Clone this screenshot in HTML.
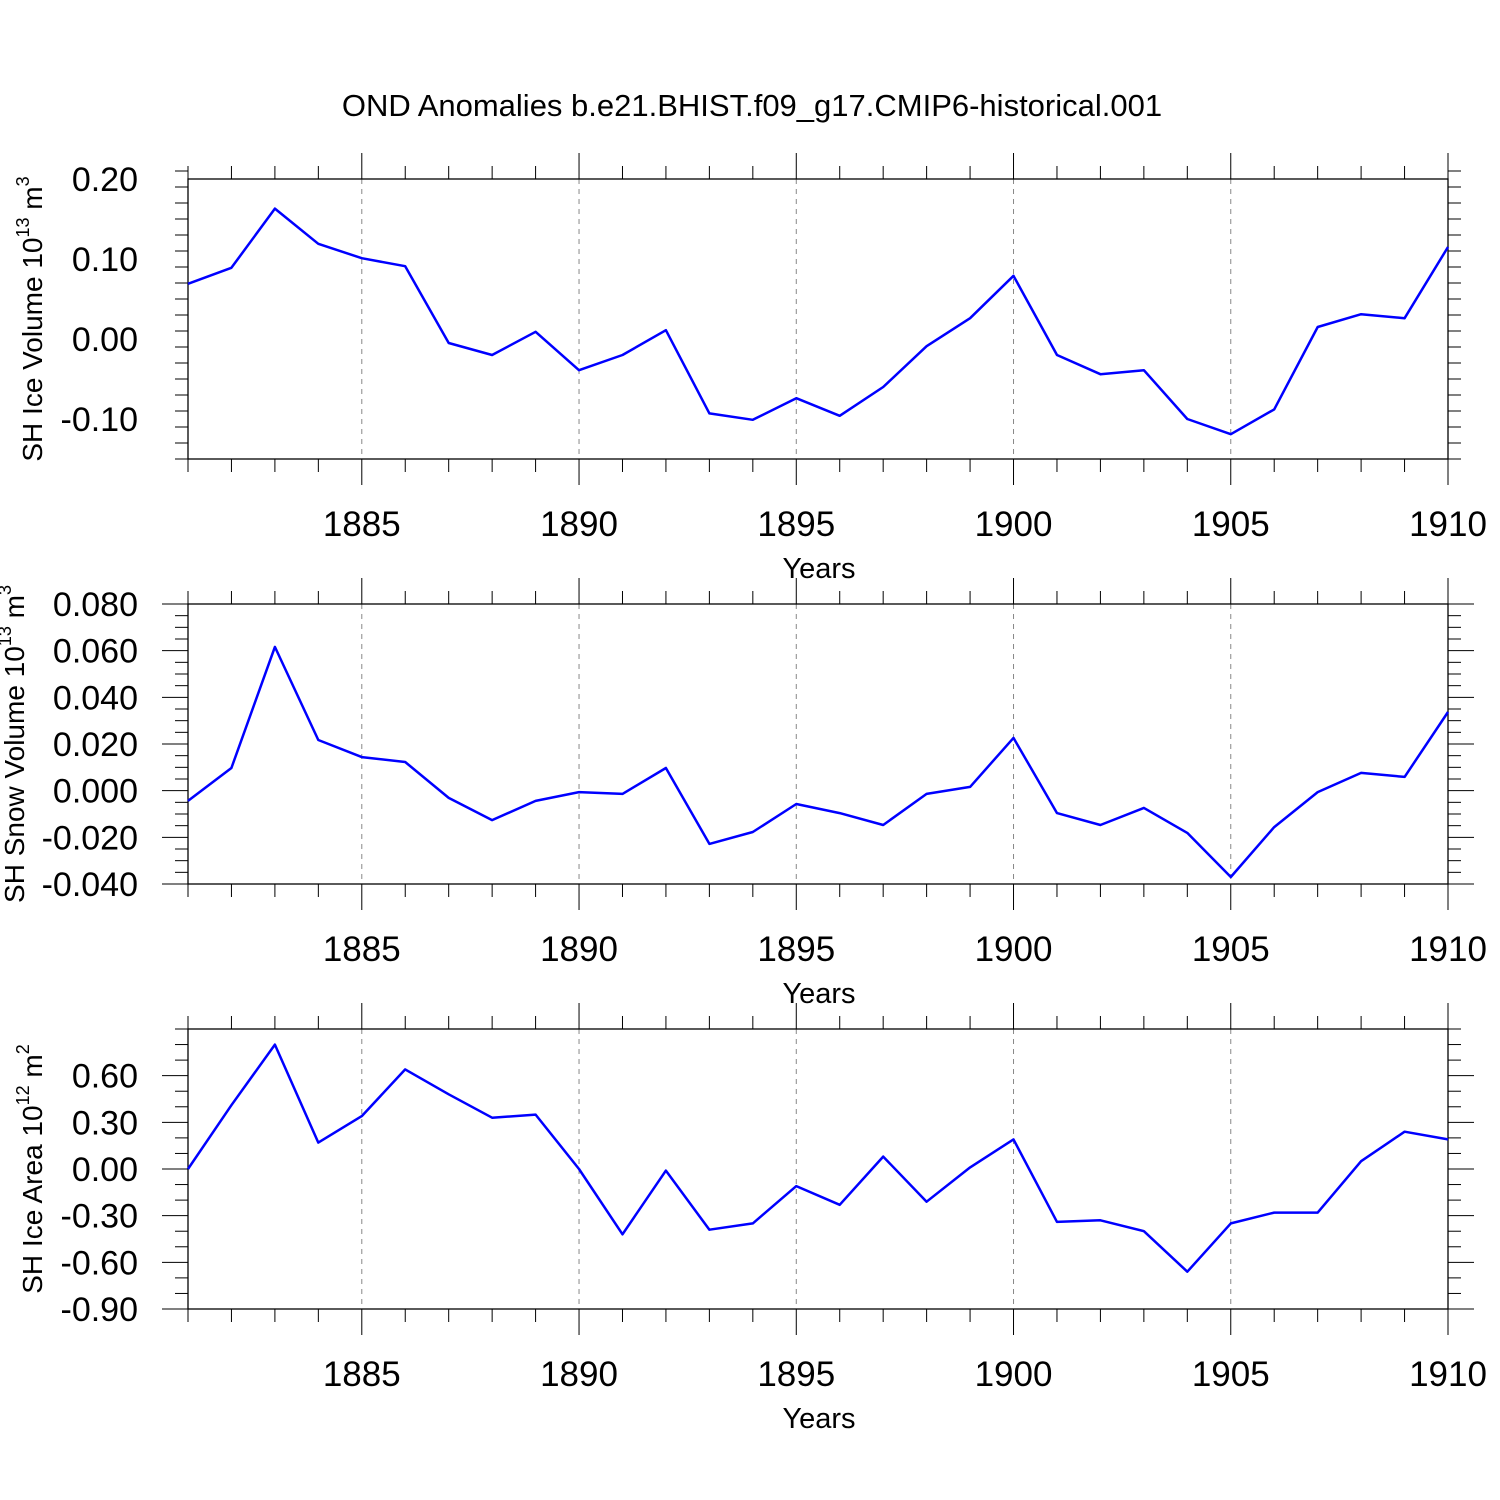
<!DOCTYPE html>
<html><head><meta charset="utf-8"><style>body{margin:0;background:#fff}svg{display:block}text{font-family:"Liberation Sans",sans-serif;fill:#000}</style></head>
<body>
<svg id="c" width="1500" height="1500" viewBox="0 0 1500 1500">
<text x="752" y="116" font-size="31" text-anchor="middle">OND Anomalies b.e21.BHIST.f09_g17.CMIP6-historical.001</text>
</svg>
<script>
const years = [];
for (let y = 1881; y <= 1910; y++) years.push(y);
const iceVolume = [0.069,0.089,0.163,0.119,0.101,0.091,-0.005,-0.020,0.009,-0.039,-0.020,0.011,-0.093,-0.101,-0.074,-0.096,-0.060,-0.009,0.026,0.079,-0.020,-0.044,-0.039,-0.100,-0.119,-0.088,0.015,0.031,0.026,0.115];
const snowVolume = [-0.0044,0.0097,0.0616,0.0217,0.0144,0.0123,-0.0031,-0.0126,-0.0044,-0.0006,-0.0014,0.0097,-0.0228,-0.0177,-0.0057,-0.0096,-0.0147,-0.0014,0.0016,0.0226,-0.0096,-0.0147,-0.0074,-0.0181,-0.0370,-0.0156,-0.0006,0.0076,0.0059,0.0337];
const iceArea = [0.00,0.41,0.80,0.17,0.34,0.64,0.48,0.33,0.35,0.00,-0.42,-0.01,-0.39,-0.35,-0.11,-0.23,0.08,-0.21,0.01,0.19,-0.34,-0.33,-0.40,-0.66,-0.35,-0.28,-0.28,0.05,0.24,0.19];
const xTickLabels = [1885,1890,1895,1900,1905,1910];
const ticks1 = [0.20,0.10,0.00,-0.10];
const ticks2 = [0.080,0.060,0.040,0.020,0.000,-0.020,-0.040];
const ticks3 = [0.60,0.30,0.00,-0.30,-0.60,-0.90];

const NS = 'http://www.w3.org/2000/svg';
const svg = document.getElementById('c');
const L = 188, R = 1448;
function mk(tag, attrs, parent) {
  const e = document.createElementNS(NS, tag);
  for (const k in attrs) e.setAttribute(k, attrs[k]);
  (parent || svg).appendChild(e);
  return e;
}
const xs = v => L + (v - 1881) * (R - L) / 29;

function panel(name, top, bot, ymin, ymax, data, ticks, minorStep, dec, labelParts, titleX) {
  const g = mk('g', {});
  
  
  const ys = v => bot - (v - ymin) * (bot - top) / (ymax - ymin);
  xTickLabels.forEach(yr => {
    if (yr === 1910) return;
    const l = mk('line', {x1: xs(yr), x2: xs(yr), y1: top, y2: bot, stroke: '#888', 'stroke-width': 1, 'stroke-dasharray': '5,5'}, g);
    
    
  });
  years.forEach(yr => {
    const major = yr % 5 === 0;
    const len = major ? 26 : 13;
    mk('line', {x1: xs(yr), x2: xs(yr), y1: top - len, y2: top, stroke: '#000', 'stroke-width': 1}, g);
    mk('line', {x1: xs(yr), x2: xs(yr), y1: bot, y2: bot + len, stroke: '#000', 'stroke-width': 1}, g);
  });
  const n = Math.round((ymax - ymin) / minorStep);
  for (let i = 0; i <= n; i++) {
    const v = ymin + i * minorStep;
    const isMajor = ticks.some(t => Math.abs(t - v) < minorStep / 10);
    const len = isMajor ? 26 : 13;
    mk('line', {x1: L - len, x2: L, y1: ys(v), y2: ys(v), stroke: '#000', 'stroke-width': 1}, g);
    mk('line', {x1: R, x2: R + len, y1: ys(v), y2: ys(v), stroke: '#000', 'stroke-width': 1}, g);
  }
  ticks.forEach(t => {
    const tx = mk('text', {x: 138, y: ys(t) + 12, 'font-size': 34, 'text-anchor': 'end'}, g);
    tx.textContent = t.toFixed(dec);
    
    
  });
  xTickLabels.forEach(yr => {
    const tx = mk('text', {x: xs(yr), y: bot + 77, 'font-size': 35, 'text-anchor': 'middle'}, g);
    tx.textContent = yr;
    
    
  });
  const xt = mk('text', {x: 819, y: bot + 119, 'font-size': 29, 'text-anchor': 'middle'}, g);
  xt.textContent = 'Years';
  
  
  const cy = (top + bot) / 2;
  const yt = mk('text', {x: 0, y: 0, 'font-size': 28, 'text-anchor': 'middle', transform: `translate(${titleX},${cy}) rotate(-90)`}, g);
  
  
  yt.appendChild(document.createTextNode(labelParts[0]));
  const s1 = mk('tspan', {'font-size': 18, dy: -13}, yt); s1.textContent = labelParts[1];
  const s2 = mk('tspan', {dy: 13}, yt); s2.textContent = ' m';
  const s3 = mk('tspan', {'font-size': 18, dy: -13}, yt); s3.textContent = labelParts[2];
  const fr = mk('rect', {x: L, y: top, width: R - L, height: bot - top, fill: 'none', stroke: '#000', 'stroke-width': 1.3}, g);
  
  
  const pts = data.map((v, i) => xs(years[i]).toFixed(1) + ',' + ys(v).toFixed(1)).join(' ');
  const pl = mk('polyline', {points: pts, fill: 'none', stroke: '#0000ff', 'stroke-width': 2.5, 'stroke-linejoin': 'round'}, g);
  
  
}
panel('ice-volume', 179, 459, -0.15, 0.20, iceVolume, ticks1, 0.02, 2, ['SH Ice Volume 10', '13', '3'], 42);
panel('snow-volume', 604, 884, -0.04, 0.08, snowVolume, ticks2, 0.005, 3, ['SH Snow Volume 10', '13', '3'], 24);
panel('ice-area', 1029, 1309, -0.90, 0.90, iceArea, ticks3, 0.1, 2, ['SH Ice Area 10', '12', '2'], 42);
</script>
</body></html>
